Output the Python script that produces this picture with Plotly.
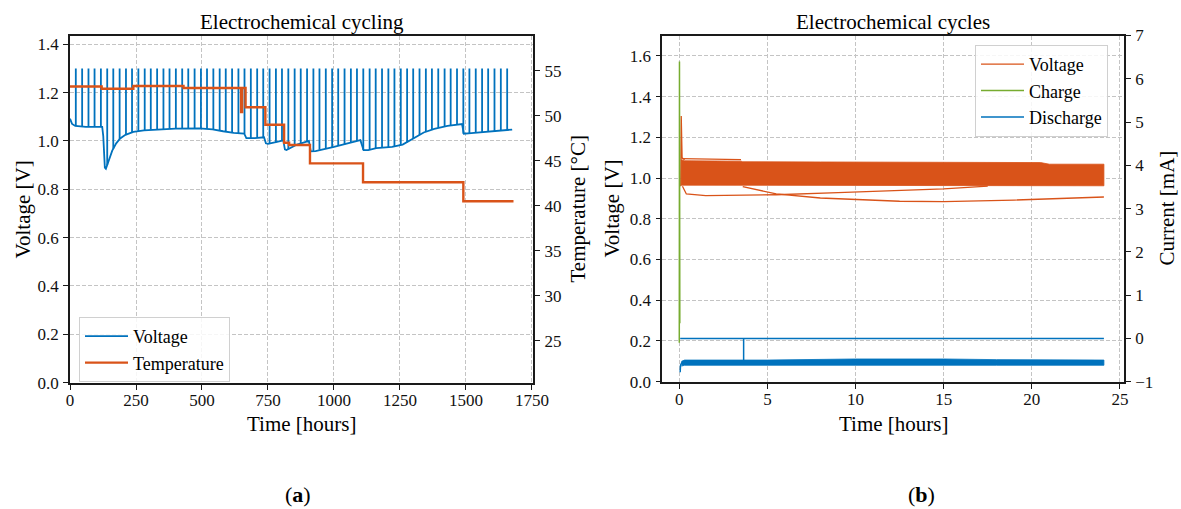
import plotly.graph_objects as go

W, H = 1181, 509
BLUE = '#0072BD'
ORANGE = '#D95319'
GREEN = '#77AC30'
FONT = 'Liberation Serif'

# ---------------- panel (a): long-term cycling ----------------
volt_time = [0, 8, 20, 60, 100, 122, 126, 132, 136, 145, 160, 175, 190, 210, 240, 280,
             340, 400, 490, 540, 580, 620, 660, 668, 700, 735, 742, 750, 780, 808, 814,
             820, 860, 905, 912, 930, 1000, 1060, 1100, 1112, 1130, 1160, 1220, 1260,
             1300, 1340, 1380, 1430, 1485, 1492, 1520, 1580, 1640, 1675]
volt_value = [1.092, 1.07, 1.062, 1.058, 1.058, 1.058, 1.02, 0.89, 0.885, 0.91, 0.96, 0.99,
              1.01, 1.025, 1.037, 1.044, 1.049, 1.051, 1.052, 1.048, 1.04, 1.033, 1.03,
              1.012, 1.012, 1.015, 0.99, 0.988, 0.995, 1.002, 0.965, 0.962, 0.985, 1.0,
              0.957, 0.958, 0.975, 0.99, 1.003, 0.962, 0.962, 0.97, 0.975, 0.985, 1.01,
              1.035, 1.05, 1.062, 1.07, 1.03, 1.032, 1.038, 1.043, 1.047]

spike_time = [22, 46, 70, 93, 117, 141, 164, 188, 212, 235, 259, 283, 306, 330, 354, 377,
              401, 425, 448, 472, 496, 519, 543, 567, 590, 614, 638, 661, 685, 709, 732,
              756, 780, 803, 827, 851, 874, 898, 922, 945, 969, 993, 1016, 1040, 1064,
              1087, 1111, 1135, 1158, 1182, 1206, 1229, 1253, 1277, 1300, 1324, 1348,
              1371, 1395, 1419, 1442, 1466, 1490, 1513, 1537, 1561, 1584, 1608, 1632, 1656]
spike_base = [1.062, 1.059, 1.058, 1.058, 1.058, 0.90, 0.968, 1.008, 1.026, 1.035, 1.04,
              1.044, 1.046, 1.048, 1.049, 1.05, 1.051, 1.051, 1.052, 1.052, 1.052, 1.05,
              1.048, 1.043, 1.038, 1.034, 1.032, 1.03, 1.012, 1.013, 1.015, 0.99, 0.995,
              1.001, 0.966, 0.98, 0.99, 0.998, 0.957, 0.963, 0.967, 0.974, 0.979, 0.985,
              0.991, 1.0, 0.962, 0.963, 0.97, 0.973, 0.974, 0.977, 0.983, 0.995, 1.01,
              1.025, 1.038, 1.047, 1.054, 1.06, 1.064, 1.067, 1.03, 1.031, 1.034, 1.036,
              1.038, 1.04, 1.042, 1.045]
spike_top = 1.30

temp_time = [0, 120, 240, 430, 648, 652, 665, 740, 811, 830, 909, 1110, 1490, 1680]
temp_value = [53.25, 53.0, 53.3, 53.08, 50.4, 53.08, 50.95, 49.0, 47.0, 46.75, 44.7,
              42.6, 40.5, 40.5]

# ---------------- panel (b): 24 h of cycles ----------------
vband_time = [0.1, 0.3, 3.5, 3.6, 8, 12, 20.5, 21.0, 24.09]
vband_upper = [1.09, 1.085, 1.083, 1.080, 1.079, 1.078, 1.076, 1.068, 1.068]
vband_lower = [0.965, 0.962, 0.962, 0.962, 0.962, 0.962, 0.962, 0.962, 0.962]
vtop_time = [0.12, 3.5]
vtop_value = [1.095, 1.09]
vstart_time = [0.08, 0.11, 0.16, 0.3]
vstart_value = [0.96, 1.305, 1.10, 1.09]
vlineA_time = [0.18, 0.4, 1.5, 5.5, 9, 12.5, 15, 17.5]
vlineA_value = [0.96, 0.922, 0.914, 0.918, 0.928, 0.937, 0.947, 0.96]
vlineB_time = [3.6, 5.5, 8, 12.5, 15, 19, 24.09]
vlineB_value = [0.958, 0.922, 0.902, 0.886, 0.884, 0.892, 0.907]

charge_time = [0.0, 0.01, 0.03]
charge_current = [-0.1, 6.4, 0.35]

dis_zero_time = [0.05, 24.09]
dis_zero_current = [0.0, 0.0]
dis_step_time = [3.65, 3.65]
dis_step_current = [0.0, -0.5]
dis_start_time = [0.05, 0.07, 0.15]
dis_start_current = [-0.78, -0.62, -0.55]
dband_time = [0.12, 0.3, 5, 10, 15, 18, 24.09]
dband_upper = [-0.53, -0.5, -0.5, -0.475, -0.475, -0.49, -0.5]
dband_lower = [-0.64, -0.62, -0.62, -0.62, -0.62, -0.62, -0.62]

fig = go.Figure()

# panel (a) traces
fig.add_trace(go.Scatter(x=volt_time, y=volt_value, mode='lines', name='Voltage',
                         line=dict(color=BLUE, width=1.8), xaxis='x', yaxis='y',
                         legend='legend'))
sx, sy = [], []
for t, b in zip(spike_time, spike_base):
    sx += [t, t, None]
    sy += [b, spike_top, None]
fig.add_trace(go.Scatter(x=sx, y=sy, mode='lines', showlegend=False,
                         line=dict(color=BLUE, width=1.8), xaxis='x', yaxis='y',
                         legend='legend'))
fig.add_trace(go.Scatter(x=temp_time, y=temp_value, mode='lines', name='Temperature',
                         line=dict(color=ORANGE, width=2.4, shape='hv'),
                         xaxis='x', yaxis='y2', legend='legend'))

# panel (b) traces
fig.add_trace(go.Scatter(x=vband_time + vband_time[::-1], y=vband_upper + vband_lower[::-1],
                         mode='lines', fill='toself', fillcolor=ORANGE,
                         line=dict(color=ORANGE, width=0.8), showlegend=False,
                         xaxis='x2', yaxis='y3', legend='legend2'))
fig.add_trace(go.Scatter(x=vlineA_time, y=vlineA_value, mode='lines', name='Voltage',
                         line=dict(color=ORANGE, width=1.3), xaxis='x2', yaxis='y3',
                         legend='legend2'))
for tx, ty in [(vlineB_time, vlineB_value), (vtop_time, vtop_value),
               (vstart_time, vstart_value)]:
    fig.add_trace(go.Scatter(x=tx, y=ty, mode='lines', showlegend=False,
                             line=dict(color=ORANGE, width=1.3), xaxis='x2', yaxis='y3',
                             legend='legend2'))
fig.add_trace(go.Scatter(x=charge_time, y=charge_current, mode='lines', name='Charge',
                         line=dict(color=GREEN, width=1.5), xaxis='x2', yaxis='y4',
                         legend='legend2'))
fig.add_trace(go.Scatter(x=dis_zero_time, y=dis_zero_current, mode='lines', name='Discharge',
                         line=dict(color=BLUE, width=1.5), xaxis='x2', yaxis='y4',
                         legend='legend2'))
for tx, ty in [(dis_step_time, dis_step_current), (dis_start_time, dis_start_current)]:
    fig.add_trace(go.Scatter(x=tx, y=ty, mode='lines', showlegend=False,
                             line=dict(color=BLUE, width=1.5), xaxis='x2', yaxis='y4',
                             legend='legend2'))
fig.add_trace(go.Scatter(x=dband_time + dband_time[::-1], y=dband_upper + dband_lower[::-1],
                         mode='lines', fill='toself', fillcolor=BLUE,
                         line=dict(color=BLUE, width=0.8), showlegend=False,
                         xaxis='x2', yaxis='y4', legend='legend2'))

AX = dict(showline=True, linecolor='#1a1a1a', linewidth=1.6, ticks='outside', ticklen=5,
          tickwidth=1.2, tickcolor='#1a1a1a', zeroline=False, automargin=False,
          tickfont=dict(family=FONT, size=17, color='#111'))
GRID = dict(showgrid=True, gridcolor='#c4c4c4', gridwidth=0.9, griddash='4px,2px')

def px(x):
    return x / W

def py(y):
    return 1 - y / H

LEG = dict(xanchor='left', yanchor='top', bgcolor='rgba(255,255,255,0.85)',
           bordercolor='#d0d0d0', borderwidth=1, itemwidth=43, tracegroupgap=0,
           font=dict(family=FONT, size=18, color='black'))

fig.update_layout(
    width=W, height=H, margin=dict(l=0, r=0, t=0, b=0, pad=0, autoexpand=False),
    paper_bgcolor='white', plot_bgcolor='white',
    font=dict(family=FONT, color='black'),
    xaxis=dict(domain=[px(70), px(533.3)], range=[0, 1755], tick0=0, dtick=250,
               anchor='y', mirror=True, ticklabelstandoff=-4, **AX, **GRID),
    yaxis=dict(domain=[py(382.7), py(36)], range=[0, 1.434], tick0=0, dtick=0.2,
               tickformat='.1f', anchor='x', ticklabelstandoff=1, **AX, **GRID),
    yaxis2=dict(overlaying='y', side='right', anchor='x', range=[20.33, 58.86],
                tickvals=[25, 30, 35, 40, 45, 50, 55], showgrid=False,
                ticklabelstandoff=1, **AX),
    xaxis2=dict(domain=[px(662.3), px(1124)], range=[-0.964, 25.23], tick0=0, dtick=5,
                anchor='y3', mirror=True, ticklabelstandoff=-4, **AX, **GRID),
    yaxis3=dict(domain=[py(381.7), py(35.5)], range=[0, 1.70], tick0=0, dtick=0.2,
                tickformat='.1f', anchor='x2', ticklabelstandoff=1, **AX, **GRID),
    yaxis4=dict(overlaying='y3', side='right', anchor='x2', range=[-1, 7], tick0=-1,
                dtick=1, showgrid=False, ticklabelstandoff=1, **AX),
    legend=dict(x=px(79), y=py(317), **LEG),
    legend2=dict(x=px(975), y=py(45), **LEG),
)

def ann(text, x, y, size, angle=0):
    return dict(text=text, x=px(x), y=py(y), xref='paper', yref='paper', showarrow=False,
                font=dict(family=FONT, size=size, color='black'), textangle=angle,
                xanchor='center', yanchor='middle')

fig.update_layout(annotations=[
    ann('Electrochemical cycling', 301.6, 22, 21),
    ann('Electrochemical cycles', 893, 22, 21),
    ann('Time [hours]', 301.6, 424, 21),
    ann('Time [hours]', 893, 424, 21),
    ann('Voltage [V]', 23, 209.5, 21, -90),
    ann('Temperature [°C]', 578, 209.5, 21, -90),
    ann('Voltage [V]', 612, 208.6, 21, -90),
    ann('Current [mA]', 1167, 208.6, 21, -90),
    ann('(<b>a</b>)', 298, 494, 22),
    ann('(<b>b</b>)', 921, 494, 22),
])

fig.write_html('out.html')
